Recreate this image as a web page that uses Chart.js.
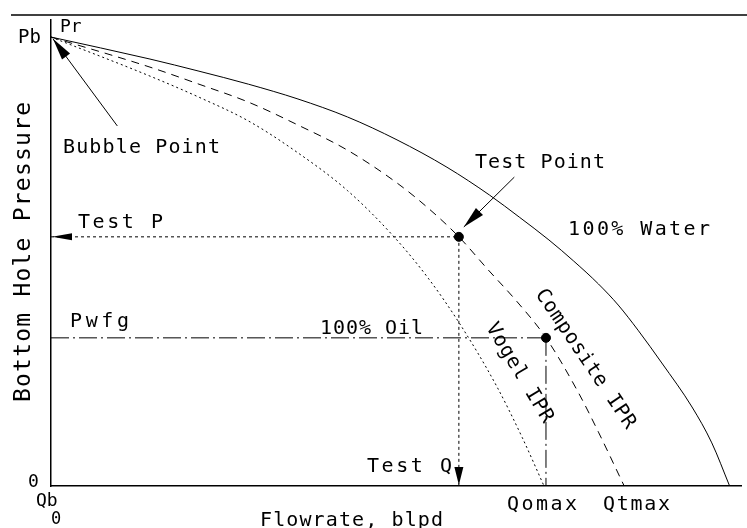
<!DOCTYPE html>
<html>
<head>
<meta charset="utf-8">
<script src="https://cdn.jsdelivr.net/npm/chart.js@4.4.1/dist/chart.umd.min.js"></script>
<style>
  html, body { margin: 0; padding: 0; background: #fff; }
  #wrap { width: 747px; height: 528px; }
</style>
</head>
<body>
<div id="wrap"><canvas id="ipr" width="747" height="528"></canvas></div>
<script>
// ---------------------------------------------------------------
// Data (flowrate in blpd-ish units, Qomax = 1000;
// pressure with Pr = Pb = 1000)
// ---------------------------------------------------------------
const flowRange = [0, 1395];
const pressRange = [0, 1038];

// 100% water (solid)
const waterQ = [0, 200, 299, 399, 499, 599, 699, 800, 886, 946, 1006, 1056, 1106, 1146, 1186, 1234, 1295, 1335, 1371];
const waterP = [1000, 951, 924, 895, 862, 822, 771, 710, 648, 599, 548, 501, 450, 403, 347, 274, 176, 96, 0];

// Composite IPR (dashed)
const compositeQ = [0, 200, 299, 399, 499, 599, 699, 762, 824, 882, 942, 1000, 1066, 1106, 1158];
const compositeP = [1000, 933, 895, 855, 804, 748, 675, 619, 555, 483, 410, 330, 207, 120, 0];

// Vogel IPR (dotted)
const vogelQ = [0, 200, 299, 399, 499, 599, 693, 762, 826, 900, 952, 996];
const vogelP = [1000, 913, 866, 813, 742, 658, 555, 463, 361, 223, 108, 0];

// test point and Pwfg / Qomax point
const pointQ = [824, 1000];
const pointP = [555, 330];

// arrows pointing at Pb and at the test point: [tailQ, tailP, tipQ, tipP]
const bubbleArrow = [134, 802, 4, 996];
const testArrow = [936, 688, 834, 577];

// ---------------------------------------------------------------
// helpers
// ---------------------------------------------------------------
const zip = (xs, ys) => xs.map((x, i) => ({ x: x, y: ys[i] }));
const FONT = '"DejaVu Sans Mono", "Liberation Mono", monospace';

// labels: left / centre of capitals in pixels, target width for spacing
const labels = [
    { t: 'Pb', x: 18, y: 36, s: 19 },
    { t: 'Pr', x: 60, y: 25, s: 18 },
    { t: 'Bubble Point', x: 63, y: 146, w: 157, s: 20 },
    { t: 'Test Point', x: 475, y: 161, w: 130, s: 20 },
    { t: '100% Water', x: 568, y: 228, w: 142, s: 20 },
    { t: 'Test P', x: 78, y: 221, w: 85, s: 20 },
    { t: 'Pwfg', x: 70, y: 320, w: 59, s: 20 },
    { t: '100% Oil', x: 320, y: 327, w: 103, s: 20 },
    { t: 'Test Q', x: 367, y: 465, w: 85, s: 20 },
    { t: 'Qomax', x: 507, y: 503, w: 70, s: 20 },
    { t: 'Qtmax', x: 603, y: 503, w: 67, s: 20 },
    { t: 'Flowrate, blpd', x: 260, y: 519, w: 183, s: 20 },
    { t: '0', x: 28, y: 480, s: 18 },
    { t: 'Qb', x: 36, y: 499, s: 18 },
    { t: '0', x: 51, y: 518, s: 17 },
    { t: 'Bottom Hole Pressure', cx: 22, cy: 252, w: 300, s: 23, rot: -90 },
    { t: 'Vogel IPR', cx: 521, cy: 372, w: 113, s: 20, rot: 59 },
    { t: 'Composite IPR', cx: 587, cy: 358, w: 164, s: 20, rot: 56 }
];

function drawLabel(ctx, l) {
    ctx.save();
    ctx.font = l.s + 'px ' + FONT;
    ctx.fillStyle = '#000';
    ctx.textAlign = 'left';
    ctx.textBaseline = 'alphabetic';
    ctx.letterSpacing = '0px';
    const w0 = ctx.measureText(l.t).width;
    const n = l.t.length;
    const w = l.w || w0;
    const ls = l.w && n > 1 ? (l.w - w0) / (n - 1) : 0;
    ctx.letterSpacing = ls + 'px';
    const capHalf = l.s * 0.365;
    if (l.rot !== undefined) {
        ctx.translate(l.cx, l.cy);
        ctx.rotate(l.rot * Math.PI / 180);
        ctx.fillText(l.t, -w / 2, capHalf);
    } else {
        ctx.fillText(l.t, l.x, l.y + capHalf);
    }
    ctx.restore();
}

// filled spear-like arrow head, tip at (x2,y2)
function arrowHead(ctx, x1, y1, x2, y2, len, half) {
    const a = Math.atan2(y2 - y1, x2 - x1);
    const bx = x2 - len * Math.cos(a), by = y2 - len * Math.sin(a);
    const px = -Math.sin(a) * half, py = Math.cos(a) * half;
    ctx.beginPath();
    ctx.moveTo(x2, y2);
    ctx.lineTo(bx + px, by + py);
    ctx.lineTo(bx - px, by - py);
    ctx.closePath();
    ctx.fill();
}

const annotPlugin = {
    id: 'annot',
    afterDraw(chart) {
        const ctx = chart.ctx;
        const sx = chart.scales.x, sy = chart.scales.y;
        ctx.save();
        ctx.strokeStyle = '#000';
        ctx.fillStyle = '#000';

        // frame line on top
        ctx.lineWidth = 1.5;
        ctx.beginPath();
        ctx.moveTo(11, 15);
        ctx.lineTo(747, 15);
        ctx.stroke();

        // pointer arrows
        ctx.lineWidth = 1;
        [bubbleArrow, testArrow].forEach(a => {
            const x1 = sx.getPixelForValue(a[0]), y1 = sy.getPixelForValue(a[1]);
            const x2 = sx.getPixelForValue(a[2]), y2 = sy.getPixelForValue(a[3]);
            ctx.beginPath();
            ctx.moveTo(x1, y1);
            ctx.lineTo(x2, y2);
            ctx.stroke();
            arrowHead(ctx, x1, y1, x2, y2, 22, 5);
        });

        // arrow heads on Test P / Test Q lines
        const tx = sx.getPixelForValue(pointQ[0]), ty = sy.getPixelForValue(pointP[0]);
        const x0 = sx.getPixelForValue(0), y0 = sy.getPixelForValue(0);
        arrowHead(ctx, tx, ty, x0 + 1, ty, 20, 3.5);
        arrowHead(ctx, tx, ty, tx, y0 - 1, 18, 4.5);

        labels.forEach(l => drawLabel(ctx, l));
        ctx.restore();
    }
};

const lineBase = {
    borderColor: '#000',
    borderWidth: 1,
    pointRadius: 0,
    showLine: true,
    fill: false
};

const chart = new Chart(document.getElementById('ipr').getContext('2d'), {
    type: 'scatter',
    data: {
        datasets: [
            { ...lineBase, label: 'Test point', data: zip(pointQ, pointP), showLine: false,
              pointRadius: 4.5, pointBackgroundColor: '#000', pointBorderColor: '#000', order: 0 },
            { ...lineBase, label: '100% Water', data: zip(waterQ, waterP), cubicInterpolationMode: 'monotone', order: 1 },
            { ...lineBase, label: 'Composite IPR', data: zip(compositeQ, compositeP), cubicInterpolationMode: 'monotone', borderDash: [8, 6], order: 1 },
            { ...lineBase, label: 'Vogel IPR', data: zip(vogelQ, vogelP), cubicInterpolationMode: 'monotone', borderDash: [2, 3], order: 1 },
            { ...lineBase, label: 'Test P', data: [{ x: 0, y: pointP[0] }, { x: pointQ[0], y: pointP[0] }], borderDash: [3, 3], order: 1 },
            { ...lineBase, label: 'Test Q', data: [{ x: pointQ[0], y: pointP[0] }, { x: pointQ[0], y: 0 }], borderDash: [3, 3], order: 1 },
            { ...lineBase, label: 'Pwfg', data: [{ x: 0, y: pointP[1] }, { x: pointQ[1], y: pointP[1] }], borderDash: [18, 4, 2, 4], order: 1 },
            { ...lineBase, label: 'Qomax', data: [{ x: pointQ[1], y: pointP[1] }, { x: pointQ[1], y: 0 }], borderDash: [18, 4, 2, 4], order: 1 }
        ]
    },
    options: {
        responsive: false,
        animation: false,
        layout: { padding: { left: 51, right: 0, top: 20, bottom: 42 } },
        scales: {
            x: {
                type: 'linear', min: flowRange[0], max: flowRange[1],
                ticks: { display: false },
                grid: { display: false, drawTicks: false },
                border: { display: true, color: '#000', width: 1.5 }
            },
            y: {
                type: 'linear', min: pressRange[0], max: pressRange[1],
                ticks: { display: false },
                grid: { display: false, drawTicks: false },
                border: { display: true, color: '#000', width: 1.5 }
            }
        },
        plugins: { legend: { display: false }, tooltip: { enabled: false } }
    },
    plugins: [annotPlugin]
});
</script>
</body>
</html>
